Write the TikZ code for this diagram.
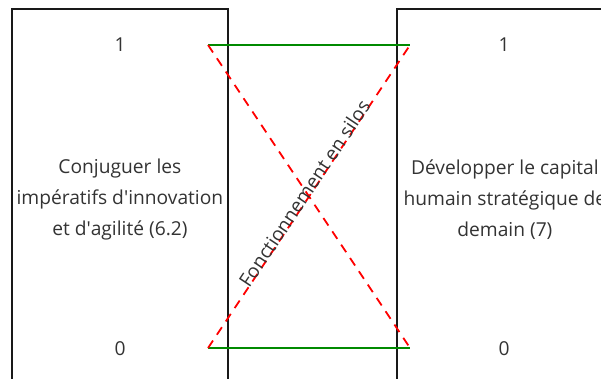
\documentclass[tikz,border=0pt]{standalone}
\usepackage{fontspec}
\setmainfont{Open Sans}
\usetikzlibrary{positioning}
\definecolor{txtgrey}{HTML}{333333}
\definecolor{linkgreen}{HTML}{008A00}
\tikzset{
  block/.style={
    draw=black!90, line width=1.8pt, rectangle, align=center, inner sep=0pt,
    minimum width=216pt, minimum height=382pt, text=txtgrey,
    font=\fontsize{19.2}{31}\selectfont
  },
  level/.style={text=txtgrey, inner sep=0pt, font=\fontsize{19.2}{22}\selectfont},
  keep/.style={draw=linkgreen, line width=1.8pt},
  cut/.style={draw=red, line width=1.8pt, dash pattern=on 9pt off 7pt},
}

\begin{document}
\begin{tikzpicture}[x=1pt, y=-1pt]
  \useasboundingbox (0,0) rectangle (601,378);
  \clip (0,0) rectangle (601,378);
  \node[block, anchor=north west] (conj) at (11,8)
    {Conjuguer les\\impératifs d\textquotesingle innovation\\et d\textquotesingle agilité (6.2)};
  \node[block, anchor=north west] (dev) at (396,8)
    {Développer le capital\\humain stratégique de\\demain (7)};
  \node[level] (conj1) at (120,45) {1};
  \node[level] (conj0) at (120,349) {0};
  \node[level] (dev1) at (504,45) {1};
  \node[level] (dev0) at (504,349) {0};
  % ends of the links
  \coordinate (a1) at (208,45);
  \coordinate (b1) at (410,45);
  \coordinate (a0) at (208,348);
  \coordinate (b0) at (410,348);
  \draw[keep] (a1) -- (b1);
  \draw[keep] (a0) -- (b0);
  \draw[cut] (a1) -- (b0);
  \draw[cut] (a0) -- (b1)
    node[midway, sloped, above=-6pt, text=txtgrey, font=\fontsize{19.2}{22}\selectfont] (silo) {Fonctionnement en silos};
\end{tikzpicture}
\end{document}
